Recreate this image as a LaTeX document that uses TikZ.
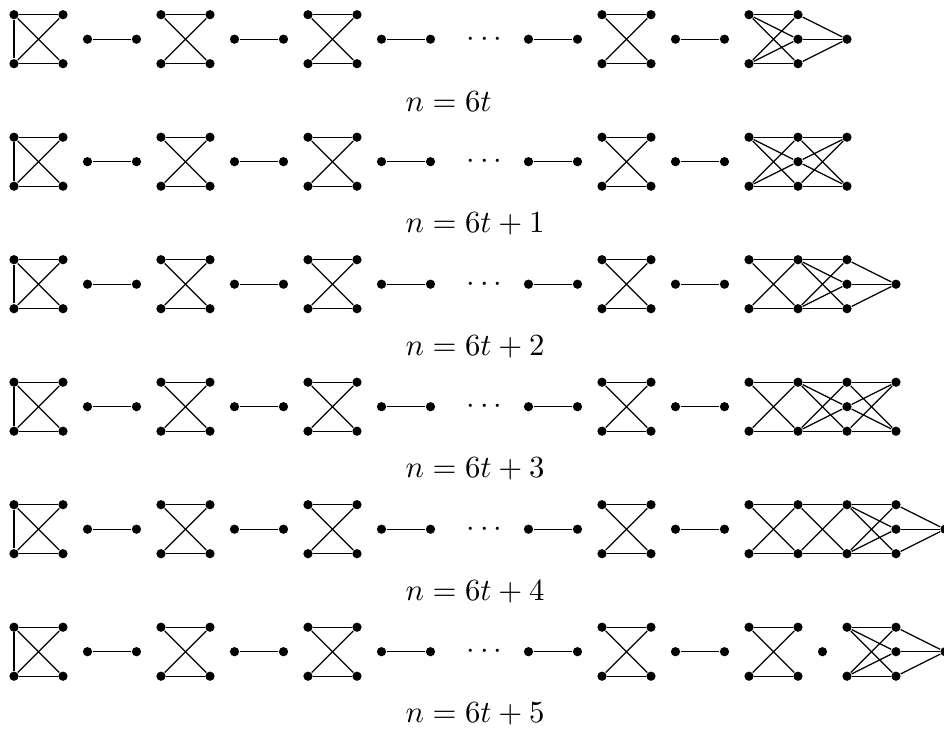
\documentclass[tikz,border=0pt]{standalone}
\usetikzlibrary{positioning}
\tikzset{
  vtx/.style={circle,fill=black,draw=none,inner sep=0pt,minimum size=3pt},
  link/.style={draw=black,line width=0.4pt},
  caption/.style={anchor=west,inner sep=0pt}
}
% one column of vertices: row, column, levels (0 bottom, 1 middle, 2 top)
\newcommand{\vcol}[3]{%
  \foreach \lv in {#3} \node[vtx] (v#1-#2-\lv) at (#2,{\lv-5*#1}) {};}
% every vertex of one column joined to every vertex of the next
\newcommand{\joincols}[5]{%
  \foreach \la in {#3} \foreach \lb in {#5} \draw[link] (v#1-#2-\la) -- (v#1-#4-\lb);}

\begin{document}
\begin{tikzpicture}[x=0.28cm,y=0.28cm]
  \useasboundingbox (-0.571,-27.24) rectangle (37.96,2.6);
  \foreach \r/\lbl in {0/6t,1/6t+1,2/6t+2,3/6t+3,4/6t+4,5/6t+5}{
    \foreach \c in {0,2,6,8,12,14,24,26} {\vcol{\r}{\c}{0,2}}
    \foreach \c in {3,5,9,11,15,17,21,23,27,29} {\vcol{\r}{\c}{1}}
    \foreach \c [evaluate=\c as \d using int(\c+2)] in {0,6,12,24}
      {\joincols{\r}{\c}{0,2}{\d}{0,2}}
    \foreach \c [evaluate=\c as \d using int(\c+2)] in {3,9,15,21,27}
      {\joincols{\r}{\c}{1}{\d}{1}}
    \draw[link] (v\r-0-0) -- (v\r-0-2);
    \node (dots\r) at (19.2,{1-5*\r}) {$\cdots$};
    \node[caption] (cap\r) at (15.96,{-1.55-5*\r}) {$n=\lbl$};
  }
  % n = 6t
  \vcol{0}{30}{0,2} \vcol{0}{32}{0,1,2} \vcol{0}{34}{1}
  \joincols{0}{30}{0,2}{32}{0,1,2} \joincols{0}{32}{0,1,2}{34}{1}
  % n = 6t+1
  \vcol{1}{30}{0,2} \vcol{1}{32}{0,1,2} \vcol{1}{34}{0,2}
  \joincols{1}{30}{0,2}{32}{0,1,2} \joincols{1}{32}{0,1,2}{34}{0,2}
  % n = 6t+2
  \vcol{2}{30}{0,2} \vcol{2}{32}{0,2} \vcol{2}{34}{0,1,2} \vcol{2}{36}{1}
  \joincols{2}{30}{0,2}{32}{0,2} \joincols{2}{32}{0,2}{34}{0,1,2}
  \joincols{2}{34}{0,1,2}{36}{1}
  % n = 6t+3
  \vcol{3}{30}{0,2} \vcol{3}{32}{0,2} \vcol{3}{34}{0,1,2} \vcol{3}{36}{0,2}
  \joincols{3}{30}{0,2}{32}{0,2} \joincols{3}{32}{0,2}{34}{0,1,2}
  \joincols{3}{34}{0,1,2}{36}{0,2}
  % n = 6t+4
  \vcol{4}{30}{0,2} \vcol{4}{32}{0,2} \vcol{4}{34}{0,2} \vcol{4}{36}{0,1,2}
  \vcol{4}{38}{1}
  \joincols{4}{30}{0,2}{32}{0,2} \joincols{4}{32}{0,2}{34}{0,2}
  \joincols{4}{34}{0,2}{36}{0,1,2} \joincols{4}{36}{0,1,2}{38}{1}
  % n = 6t+5
  \vcol{5}{30}{0,2} \vcol{5}{32}{0,2} \vcol{5}{33}{1} \vcol{5}{34}{0,2}
  \vcol{5}{36}{0,1,2} \vcol{5}{38}{1}
  \joincols{5}{30}{0,2}{32}{0,2} \joincols{5}{34}{0,2}{36}{0,1,2}
  \joincols{5}{36}{0,1,2}{38}{1}
\end{tikzpicture}
\end{document}
